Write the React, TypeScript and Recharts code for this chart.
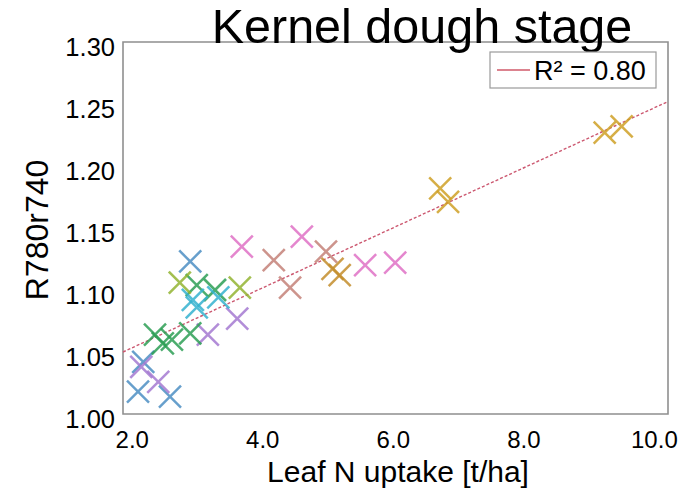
import React from "react";
import {
  ScatterChart,
  Scatter,
  XAxis,
  YAxis,
  ReferenceArea,
  ReferenceLine,
} from "recharts";

const xTicks = [2, 4, 6, 8, 10];
const yTicks = [1.0, 1.05, 1.1, 1.15, 1.2, 1.25, 1.3];
const xDomain = [1.92, 10.27];
const yDomain = [1.0, 1.3];

const bluePts = [[2.15, 1.018], [2.23, 1.042], [2.64, 1.014], [2.95, 1.123]];
const cyanPts = [[2.99, 1.092], [3.05, 1.086], [3.38, 1.094]];
const purplePts = [[2.2, 1.038], [2.46, 1.026], [3.22, 1.064], [3.67, 1.077]];
const greenPts = [[2.41, 1.064], [2.53, 1.057], [2.67, 1.06], [2.95, 1.065], [3.05, 1.104], [3.33, 1.1]];
const limePts = [[2.79, 1.106], [3.71, 1.102]];
const pinkPts = [[3.74, 1.135], [4.66, 1.143], [5.63, 1.12], [6.09, 1.122]];
const rosePts = [[4.23, 1.124], [4.48, 1.102], [5.03, 1.131]];
const orangePts = [[5.13, 1.117], [5.24, 1.112]];
const goldPts = [[6.78, 1.182], [6.9, 1.171], [9.3, 1.227], [9.56, 1.232]];

const trendX = [1.92, 10.27];
const trendY = [1.05, 1.252];

const groups = [
  { name: "blue", pts: bluePts, color: "#4d8fc4" },
  { name: "purple", pts: purplePts, color: "#a57ad2" },
  { name: "green", pts: greenPts, color: "#2d9f55" },
  { name: "cyan", pts: cyanPts, color: "#35b2cf" },
  { name: "lime", pts: limePts, color: "#93b532" },
  { name: "pink", pts: pinkPts, color: "#e072c6" },
  { name: "rose", pts: rosePts, color: "#c58279" },
  { name: "orange", pts: orangePts, color: "#c48e2c" },
  { name: "gold", pts: goldPts, color: "#cfa126" },
];

const FONT = "'Liberation Sans', Arial, sans-serif";

const makeCross = (color: string) => (props: any) => {
  const { cx, cy } = props;
  const h = 11;
  return (
    <g opacity={0.85}>
      <line x1={cx - h} y1={cy - h} x2={cx + h} y2={cy + h} stroke={color} strokeWidth={2.5} />
      <line x1={cx - h} y1={cy + h} x2={cx + h} y2={cy - h} stroke={color} strokeWidth={2.5} />
    </g>
  );
};

const XTick = (props: any) => {
  const { x, y, payload } = props;
  return (
    <text x={x + 4} y={y + 26} textAnchor="middle" fontSize={24} fontFamily={FONT} fill="#000">
      {Number(payload.value).toFixed(1)}
    </text>
  );
};

const YTick = (props: any) => {
  const { x, y, payload } = props;
  return (
    <text x={x + 0} y={y + 14} textAnchor="end" fontSize={25.5} fontFamily={FONT} fill="#000">
      {Number(payload.value).toFixed(2)}
    </text>
  );
};

export default function App() {
  return (
    <div style={{ position: "absolute", left: 0, top: 0, width: 690, height: 494, background: "#fff" }}>
      <ScatterChart width={690} height={494} margin={{ top: 42, right: 22, left: 0, bottom: 0 }}>
        <XAxis
          type="number"
          dataKey="x"
          domain={xDomain}
          ticks={xTicks}
          allowDataOverflow
          height={80}
          tick={<XTick />}
          tickLine={false}
          axisLine={false}
        />
        <YAxis
          type="number"
          dataKey="y"
          domain={yDomain}
          ticks={yTicks}
          allowDataOverflow
          width={123}
          tick={<YTick />}
          tickLine={false}
          axisLine={false}
        />
        <ReferenceArea
          x1={xDomain[0]}
          x2={xDomain[1]}
          y1={yDomain[0]}
          y2={yDomain[1]}
          fill="none"
          fillOpacity={0}
          stroke="#8f8f8f"
          strokeWidth={1.6}
        />
        <ReferenceLine
          segment={[
            { x: trendX[0], y: trendY[0] },
            { x: trendX[1], y: trendY[1] },
          ]}
          stroke="#cc5870"
          strokeWidth={1.4}
          strokeDasharray="3 2"
        />
        {groups.map((g) => (
          <Scatter
            key={g.name}
            name={g.name}
            data={g.pts.map(([x, y]) => ({ x, y }))}
            shape={makeCross(g.color)}
            isAnimationActive={false}
          />
        ))}
      </ScatterChart>
      <svg
        width={690}
        height={494}
        style={{ position: "absolute", left: 0, top: 0, pointerEvents: "none" }}
      >
        <text x={422} y={43} textAnchor="middle" fontSize={48.5} fontFamily={FONT} fill="#000">
          Kernel dough stage
        </text>
        <text
          transform="translate(48,230) rotate(-90)"
          textAnchor="middle"
          fontSize={32}
          fontFamily={FONT}
          fill="#000"
        >
          R780r740
        </text>
        <text x={398} y={482} textAnchor="middle" fontSize={30} fontFamily={FONT} fill="#000">
          Leaf N uptake [t/ha]
        </text>
        <rect x={490} y={52} width={166} height={36} fill="#fff" stroke="#9a9a9a" strokeWidth={1.2} />
        <line x1={497} y1={70} x2={530} y2={70} stroke="#d05a6a" strokeWidth={1.4} />
        <text x={534} y={80} fontSize={27} fontFamily={FONT} fill="#000">
          R² = 0.80
        </text>
      </svg>
    </div>
  );
}
